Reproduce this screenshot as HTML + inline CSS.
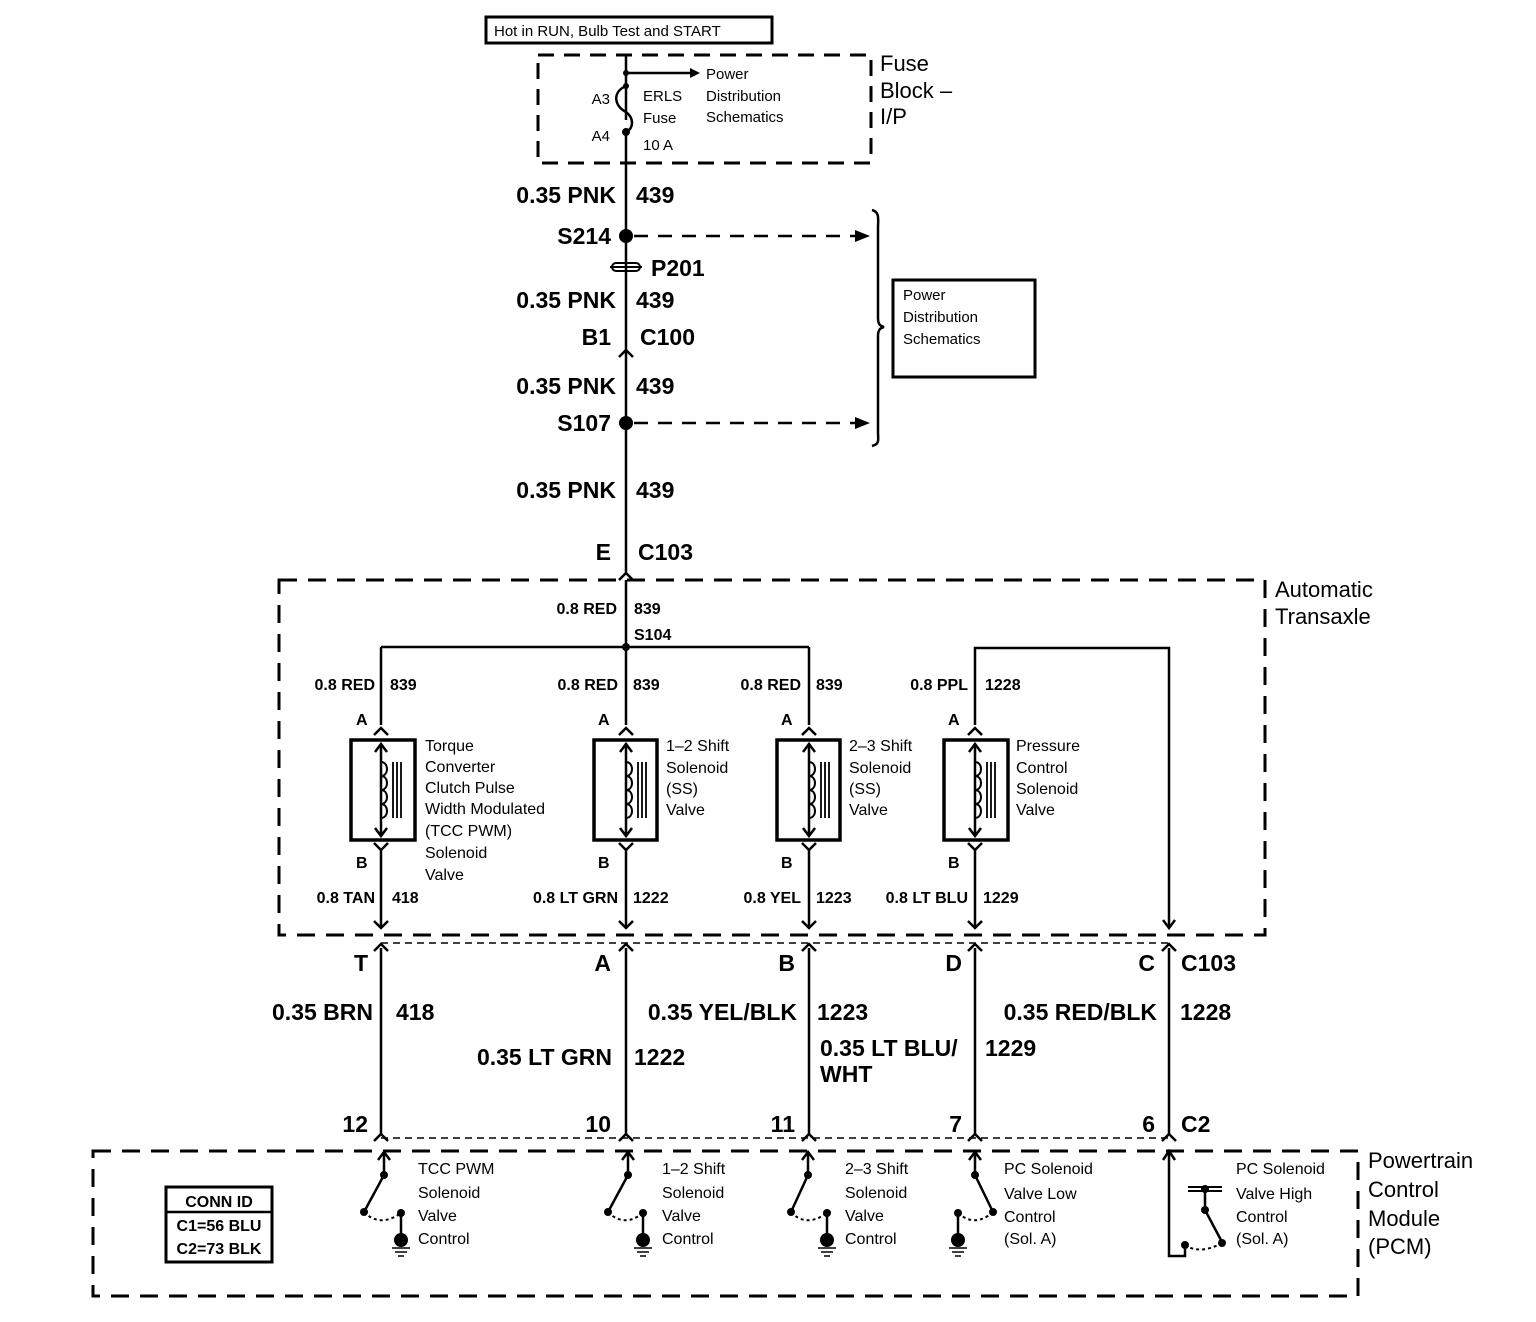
<!DOCTYPE html>
<html><head><meta charset="utf-8"><style>
html,body{margin:0;padding:0;background:#fff}
svg{display:block}
text{font-family:"Liberation Sans",Arial,sans-serif;fill:#000}
.b{font-size:23px;font-weight:bold}
.m{font-size:16px;font-weight:bold}
.s{font-size:15px}
</style></head><body>
<svg width="1536" height="1322" viewBox="0 0 1536 1322" xmlns="http://www.w3.org/2000/svg">
<g fill="none" stroke="#000" stroke-width="2.5">
<!-- top box -->
<rect x="486" y="17" width="286" height="26" stroke-width="3"/>
<!-- fuse block dashed -->
<rect x="538" y="55" width="333" height="108" stroke-dasharray="16,10" stroke-width="3"/>
<!-- main wire -->
<path d="M626 55 V120 M626 130 V575"/>
<path d="M626 73 H690"/>
<path d="M626 86 C612 92,614 106,626 112 C634 118,634 128,626 132"/>
<!-- S214 dashed -->
<path d="M634 236 H855 M634 423 H855" stroke-dasharray="14,10"/>
<!-- brace -->
<path d="M872 210 C880 212,878 220,878 228 V318 C878 324,880 326,884 327 C880 328,878 330,878 336 V432 C878 440,880 444,872 446"/>
<!-- PD box -->
<rect x="893" y="280" width="142" height="97" stroke-width="3"/>
<!-- P201 -->
<rect x="612" y="263" width="28" height="8" rx="4" stroke-width="2"/>
<path d="M610 267 H642" stroke-width="2"/>
<!-- C100 connector -->
<path d="M619 357 L626 350 L633 357"/>
<!-- C103 connector -->
<path d="M619 580 L626 573 L633 580"/>
<!-- transaxle box -->
<rect x="279" y="580" width="986" height="355" stroke-dasharray="18,11" stroke-width="3"/>
<!-- bus -->
<path d="M381 647 H809 M626 580 V647 M975 725 V648 H1169 V928"/>
<path d="M381 647 V725 M626 647 V725 M809 647 V725"/>
<path d="M1163 920 L1169 928 L1175 920"/>
<!-- lower wires -->
<path d="M381 850 V928 M626 850 V928 M809 850 V928 M975 850 V928"/>
<path d="M381 948 V1134 M626 948 V1134 M809 948 V1134 M975 948 V1134 M1169 948 V1134"/>
<path d="M381 943 H1169 M381 1138 H1169" stroke-width="1.5" stroke-dasharray="7,5"/>
<!-- PCM box -->
<rect x="93" y="1151" width="1265" height="145" stroke-dasharray="18,11" stroke-width="3"/>
<!-- CONN ID -->
<rect x="166" y="1187" width="106" height="75" stroke-width="3"/>
<path d="M166 1212 H272"/>
<!-- PC high -->
<path d="M1169 1152 V1256 H1185 V1245"/>
<path d="M1188 1187 H1222 M1188 1191 H1222" stroke-width="2"/>
<path d="M1205 1187 V1210 L1222 1242"/>
<path d="M1185 1245 Q1200 1255 1222 1243" stroke-dasharray="3,3" stroke-width="2"/>
</g>
<g fill="#000">
<path d="M690 68 L700 73 L690 78Z"/>
<path d="M855 230 L870 236 L855 242Z"/>
<path d="M855 417 L870 423 L855 429Z"/>
<circle cx="626" cy="236" r="7"/><circle cx="626" cy="423" r="7"/>
<circle cx="626" cy="73" r="3"/><circle cx="626" cy="86" r="3"/><circle cx="626" cy="132" r="4"/>
<circle cx="626" cy="647" r="4"/>
<circle cx="1185" cy="1245" r="4"/><circle cx="1222" cy="1243" r="4"/><circle cx="1205" cy="1189" r="4"/><circle cx="1205" cy="1210" r="4"/>
</g>
<path d="M1163 1160 L1169 1151 L1175 1160" fill="none" stroke="#000" stroke-width="2.5"/>

<!-- solenoids -->
<g fill="none" stroke="#000" stroke-width="2.5">
<g id="sol">
</g>
</g>
<g fill="none" stroke="#000" stroke-width="2.5">
<!-- col 381 -->
<path d="M374 735 L381 728 L388 735 M374 843 L381 850 L388 843 M374 921 L381 928 L388 921 M374 951 L381 944 L388 951 M374 1141 L381 1134 L388 1141"/>
<rect x="351" y="740" width="64" height="100" stroke-width="3.5"/>
<path d="M381 744 V836 M375 752 L381 744 L387 752 M375 828 L381 836 L387 828"/>
<path d="M381 762 c8 0,8 14,0 14 c8 0,8 14,0 14 c8 0,8 14,0 14 c8 0,8 14,0 14" stroke-width="2"/>
<path d="M393 762 V818 M397 762 V818 M401 762 V818" stroke-width="1.8"/>
<!-- col 626 -->
<path d="M619 735 L626 728 L633 735 M619 843 L626 850 L633 843 M619 921 L626 928 L633 921 M619 951 L626 944 L633 951 M619 1141 L626 1134 L633 1141"/>
<rect x="594" y="740" width="63" height="100" stroke-width="3.5"/>
<path d="M626 744 V836 M620 752 L626 744 L632 752 M620 828 L626 836 L632 828"/>
<path d="M626 762 c8 0,8 14,0 14 c8 0,8 14,0 14 c8 0,8 14,0 14 c8 0,8 14,0 14" stroke-width="2"/>
<path d="M638 762 V818 M642 762 V818 M646 762 V818" stroke-width="1.8"/>
<!-- col 809 -->
<path d="M802 735 L809 728 L816 735 M802 843 L809 850 L816 843 M802 921 L809 928 L816 921 M802 951 L809 944 L816 951 M802 1141 L809 1134 L816 1141"/>
<rect x="777" y="740" width="63" height="100" stroke-width="3.5"/>
<path d="M809 744 V836 M803 752 L809 744 L815 752 M803 828 L809 836 L815 828"/>
<path d="M809 762 c8 0,8 14,0 14 c8 0,8 14,0 14 c8 0,8 14,0 14 c8 0,8 14,0 14" stroke-width="2"/>
<path d="M821 762 V818 M825 762 V818 M829 762 V818" stroke-width="1.8"/>
<!-- col 975 -->
<path d="M968 735 L975 728 L982 735 M968 843 L975 850 L982 843 M968 921 L975 928 L982 921 M968 951 L975 944 L982 951 M968 1141 L975 1134 L982 1141"/>
<rect x="944" y="740" width="64" height="100" stroke-width="3.5"/>
<path d="M975 744 V836 M969 752 L975 744 L981 752 M969 828 L975 836 L981 828"/>
<path d="M975 762 c8 0,8 14,0 14 c8 0,8 14,0 14 c8 0,8 14,0 14 c8 0,8 14,0 14" stroke-width="2"/>
<path d="M987 762 V818 M991 762 V818 M995 762 V818" stroke-width="1.8"/>
<path d="M1162 951 L1169 944 L1176 951 M1162 1141 L1169 1134 L1176 1141"/>
</g>

<!-- switches -->
<g fill="none" stroke="#000" stroke-width="2.5">
<path d="M384 1152 V1175 L364 1212 M378 1160 L384 1152 L390 1160"/>
<path d="M401 1213 V1238"/><path d="M364 1212 Q380 1228 401 1213" stroke-dasharray="3,3" stroke-width="2"/>
<path d="M392 1248 H410 M395 1252 H407 M398 1256 H404" stroke-width="1.5"/>
<path d="M628 1152 V1175 L608 1212 M622 1160 L628 1152 L634 1160"/>
<path d="M643 1213 V1238"/><path d="M608 1212 Q624 1228 643 1213" stroke-dasharray="3,3" stroke-width="2"/>
<path d="M634 1248 H652 M637 1252 H649 M640 1256 H646" stroke-width="1.5"/>
<path d="M808 1152 V1175 L791 1212 M802 1160 L808 1152 L814 1160"/>
<path d="M827 1213 V1238"/><path d="M791 1212 Q806 1228 827 1213" stroke-dasharray="3,3" stroke-width="2"/>
<path d="M818 1248 H836 M821 1252 H833 M824 1256 H830" stroke-width="1.5"/>
<path d="M975 1152 V1175 L993 1212 M969 1160 L975 1152 L981 1160"/>
<path d="M958 1213 V1238"/><path d="M958 1213 Q975 1228 993 1212" stroke-dasharray="3,3" stroke-width="2"/>
<path d="M949 1248 H967 M952 1252 H964 M955 1256 H961" stroke-width="1.5"/>
</g>
<g fill="#000">
<circle cx="384" cy="1175" r="4"/><circle cx="364" cy="1212" r="4"/><circle cx="401" cy="1213" r="4"/><circle cx="401" cy="1240" r="7"/>
<circle cx="628" cy="1175" r="4"/><circle cx="608" cy="1212" r="4"/><circle cx="643" cy="1213" r="4"/><circle cx="643" cy="1240" r="7"/>
<circle cx="808" cy="1175" r="4"/><circle cx="791" cy="1212" r="4"/><circle cx="827" cy="1213" r="4"/><circle cx="827" cy="1240" r="7"/>
<circle cx="975" cy="1175" r="4"/><circle cx="993" cy="1212" r="4"/><circle cx="958" cy="1213" r="4"/><circle cx="958" cy="1240" r="7"/>
</g>

<!-- text -->
<text x="494" y="36" class="s">Hot in RUN, Bulb Test and START</text>
<text x="706" y="79" class="s">Power</text>
<text x="706" y="101" class="s">Distribution</text>
<text x="706" y="122" class="s">Schematics</text>
<text x="643" y="101" class="s">ERLS</text>
<text x="643" y="123" class="s">Fuse</text>
<text x="643" y="150" class="s">10 A</text>
<text x="610" y="104" class="s" text-anchor="end">A3</text>
<text x="610" y="141" class="s" text-anchor="end">A4</text>
<text x="880" y="71" style="font-size:22px">Fuse</text>
<text x="880" y="98" style="font-size:22px">Block –</text>
<text x="880" y="124" style="font-size:22px">I/P</text>
<text x="903" y="300" class="s">Power</text>
<text x="903" y="322" class="s">Distribution</text>
<text x="903" y="344" class="s">Schematics</text>

<g class="b">
<text x="616" y="203" text-anchor="end">0.35 PNK</text><text x="636" y="203">439</text>
<text x="611" y="244" text-anchor="end">S214</text>
<text x="651" y="276">P201</text>
<text x="616" y="308" text-anchor="end">0.35 PNK</text><text x="636" y="308">439</text>
<text x="611" y="345" text-anchor="end">B1</text><text x="640" y="345">C100</text>
<text x="616" y="394" text-anchor="end">0.35 PNK</text><text x="636" y="394">439</text>
<text x="611" y="431" text-anchor="end">S107</text>
<text x="616" y="498" text-anchor="end">0.35 PNK</text><text x="636" y="498">439</text>
<text x="611" y="560" text-anchor="end">E</text><text x="638" y="560">C103</text>
</g>
<text x="1275" y="597" style="font-size:22px">Automatic</text>
<text x="1275" y="624" style="font-size:22px">Transaxle</text>

<g class="m">
<text x="617" y="614" text-anchor="end">0.8 RED</text><text x="634" y="614">839</text>
<text x="634" y="640">S104</text>
<text x="375" y="690" text-anchor="end">0.8 RED</text><text x="390" y="690">839</text>
<text x="618" y="690" text-anchor="end">0.8 RED</text><text x="633" y="690">839</text>
<text x="801" y="690" text-anchor="end">0.8 RED</text><text x="816" y="690">839</text>
<text x="968" y="690" text-anchor="end">0.8 PPL</text><text x="985" y="690">1228</text>
<text x="356" y="725">A</text><text x="598" y="725">A</text><text x="781" y="725">A</text><text x="948" y="725">A</text>
<text x="356" y="868">B</text><text x="598" y="868">B</text><text x="781" y="868">B</text><text x="948" y="868">B</text>
<text x="375" y="903" text-anchor="end">0.8 TAN</text><text x="392" y="903">418</text>
<text x="618" y="903" text-anchor="end">0.8 LT GRN</text><text x="633" y="903">1222</text>
<text x="801" y="903" text-anchor="end">0.8 YEL</text><text x="816" y="903">1223</text>
<text x="968" y="903" text-anchor="end">0.8 LT BLU</text><text x="983" y="903">1229</text>
</g>
<g class="s" style="font-size:16px">
<text x="425" y="751">Torque</text><text x="425" y="772">Converter</text><text x="425" y="793">Clutch Pulse</text><text x="425" y="814">Width Modulated</text><text x="425" y="836">(TCC PWM)</text><text x="425" y="858">Solenoid</text><text x="425" y="880">Valve</text>
<text x="666" y="751">1–2 Shift</text><text x="666" y="773">Solenoid</text><text x="666" y="794">(SS)</text><text x="666" y="815">Valve</text>
<text x="849" y="751">2–3 Shift</text><text x="849" y="773">Solenoid</text><text x="849" y="794">(SS)</text><text x="849" y="815">Valve</text>
<text x="1016" y="751">Pressure</text><text x="1016" y="773">Control</text><text x="1016" y="794">Solenoid</text><text x="1016" y="815">Valve</text>
</g>

<g class="b">
<text x="368" y="971" text-anchor="end">T</text>
<text x="611" y="971" text-anchor="end">A</text>
<text x="795" y="971" text-anchor="end">B</text>
<text x="962" y="971" text-anchor="end">D</text>
<text x="1155" y="971" text-anchor="end">C</text><text x="1181" y="971">C103</text>
<text x="373" y="1020" text-anchor="end">0.35 BRN</text><text x="396" y="1020">418</text>
<text x="612" y="1065" text-anchor="end">0.35 LT GRN</text><text x="634" y="1065">1222</text>
<text x="797" y="1020" text-anchor="end">0.35 YEL/BLK</text><text x="817" y="1020">1223</text>
<text x="820" y="1056">0.35 LT BLU/</text><text x="820" y="1082">WHT</text><text x="985" y="1056">1229</text>
<text x="1157" y="1020" text-anchor="end">0.35 RED/BLK</text><text x="1180" y="1020">1228</text>
<text x="368" y="1132" text-anchor="end">12</text>
<text x="611" y="1132" text-anchor="end">10</text>
<text x="795" y="1132" text-anchor="end">11</text>
<text x="962" y="1132" text-anchor="end">7</text>
<text x="1155" y="1132" text-anchor="end">6</text><text x="1181" y="1132">C2</text>
</g>
<text x="1368" y="1168" style="font-size:22px">Powertrain</text>
<text x="1368" y="1197" style="font-size:22px">Control</text>
<text x="1368" y="1226" style="font-size:22px">Module</text>
<text x="1368" y="1254" style="font-size:22px">(PCM)</text>

<g class="m">
<text x="219" y="1207" text-anchor="middle">CONN ID</text>
<text x="219" y="1231" text-anchor="middle">C1=56 BLU</text>
<text x="219" y="1254" text-anchor="middle">C2=73 BLK</text>
</g>
<g style="font-size:16px">
<text x="418" y="1174">TCC PWM</text><text x="418" y="1198">Solenoid</text><text x="418" y="1221">Valve</text><text x="418" y="1244">Control</text>
<text x="662" y="1174">1–2 Shift</text><text x="662" y="1198">Solenoid</text><text x="662" y="1221">Valve</text><text x="662" y="1244">Control</text>
<text x="845" y="1174">2–3 Shift</text><text x="845" y="1198">Solenoid</text><text x="845" y="1221">Valve</text><text x="845" y="1244">Control</text>
<text x="1004" y="1174">PC Solenoid</text><text x="1004" y="1199">Valve Low</text><text x="1004" y="1222">Control</text><text x="1004" y="1244">(Sol. A)</text>
<text x="1236" y="1174">PC Solenoid</text><text x="1236" y="1199">Valve High</text><text x="1236" y="1222">Control</text><text x="1236" y="1244">(Sol. A)</text>
</g>
</svg>
</body></html>
